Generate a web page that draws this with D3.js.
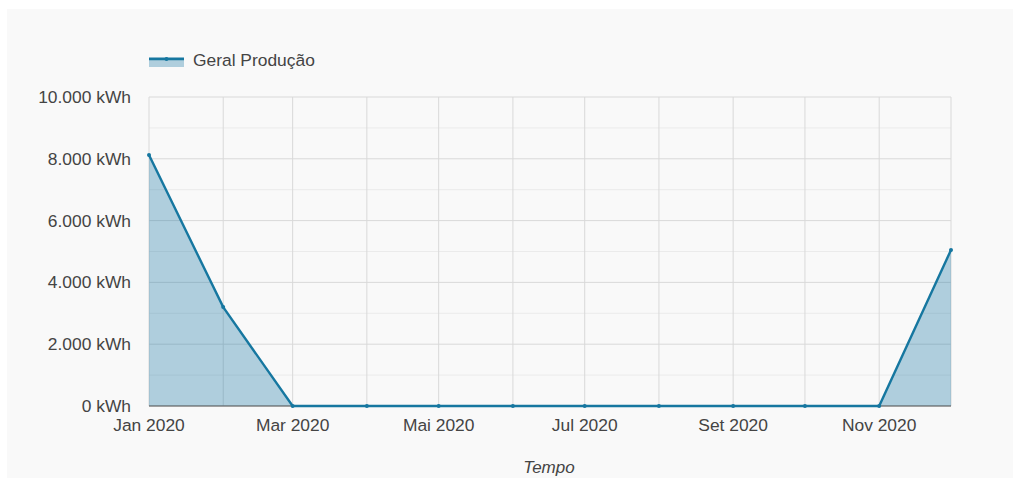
<!DOCTYPE html>
<html>
<head>
<meta charset="utf-8">
<script src="https://cdn.jsdelivr.net/npm/d3@7"></script>
<style>
  body { margin: 0; background: #fff; font-family: "Liberation Sans", Arial, sans-serif; }
  svg text { fill: #444; }
</style>
</head>
<body>
<svg id="chart"></svg>
<script>
const months = ["2020-01-01","2020-02-01","2020-03-01","2020-04-01","2020-05-01","2020-06-01",
                "2020-07-01","2020-08-01","2020-09-01","2020-10-01","2020-11-01","2020-12-01"];
const production = [8120, 3200, 0, 0, 0, 0, 0, 0, 0, 0, 0, 5050];
const yTicks = [0, 2000, 4000, 6000, 8000, 10000];
const monthNames = ["Jan","Fev","Mar","Abr","Mai","Jun","Jul","Ago","Set","Out","Nov","Dez"];

const width = 1020, height = 478;
const margin = { top: 97, right: 69, bottom: 72, left: 149 };
const innerW = width - margin.left - margin.right;
const innerH = height - margin.top - margin.bottom;
const fontSize = '17.4px';

const parse = d3.timeParse("%Y-%m-%d");
const data = months.map((m, i) => ({ date: parse(m), value: production[i] }));

const svg = d3.select('#chart')
  .attr('width', width)
  .attr('height', height);

svg.append('rect')
  .attr('x', 7).attr('y', 9)
  .attr('width', width - 14).attr('height', height - 9)
  .attr('fill', '#f9f9f9');

const g = svg.append('g')
  .attr('transform', `translate(${margin.left}, ${margin.top})`);

const x = d3.scaleTime()
  .domain(d3.extent(data, d => d.date))
  .range([0, innerW]);

const y = d3.scaleLinear()
  .domain([0, 10000])
  .range([innerH, 0]);

// minor horizontal grid
g.append('g')
  .selectAll('line')
  .data(d3.range(1000, 10000, 2000))
  .enter().append('line')
  .attr('x1', 0).attr('x2', innerW)
  .attr('y1', d => y(d)).attr('y2', d => y(d))
  .attr('stroke', '#ebebeb');

// major horizontal grid
g.append('g')
  .selectAll('line')
  .data(yTicks)
  .enter().append('line')
  .attr('x1', 0).attr('x2', innerW)
  .attr('y1', d => y(d)).attr('y2', d => y(d))
  .attr('stroke', '#d9d9d9');

// vertical grid
g.append('g')
  .selectAll('line')
  .data(data)
  .enter().append('line')
  .attr('x1', d => x(d.date)).attr('x2', d => x(d.date))
  .attr('y1', 0).attr('y2', innerH)
  .attr('stroke', '#d9d9d9');

const area = d3.area()
  .x(d => x(d.date))
  .y0(y(0))
  .y1(d => y(d.value));

const line = d3.line()
  .x(d => x(d.date))
  .y(d => y(d.value));

g.append('path')
  .datum(data)
  .attr('d', area)
  .attr('fill', 'rgba(23, 119, 163, 0.33)');

g.append('line')
  .attr('x1', 0).attr('x2', innerW)
  .attr('y1', y(0)).attr('y2', y(0))
  .attr('stroke', '#555');

g.append('path')
  .datum(data)
  .attr('d', line)
  .attr('fill', 'none')
  .attr('stroke', '#1677a0')
  .attr('stroke-width', 2.4);

g.selectAll('circle.pt')
  .data(data)
  .enter().append('circle')
  .attr('class', 'pt')
  .attr('cx', d => x(d.date))
  .attr('cy', d => y(d.value))
  .attr('r', 2)
  .attr('fill', '#1677a0');

// y axis labels
g.append('g')
  .selectAll('text')
  .data(yTicks)
  .enter().append('text')
  .attr('x', -18)
  .attr('y', d => y(d))
  .attr('dy', '0.35em')
  .attr('text-anchor', 'end')
  .attr('font-size', fontSize)
  .text(d => d3.format(",")(d).replace(/,/g, ".") + " kWh");

// x axis labels (every second month)
g.append('g')
  .selectAll('text')
  .data(data.filter((d, i) => i % 2 === 0))
  .enter().append('text')
  .attr('x', d => x(d.date))
  .attr('y', innerH + 25)
  .attr('text-anchor', 'middle')
  .attr('font-size', fontSize)
  .text(d => monthNames[d.date.getMonth()] + " " + d.date.getFullYear());

g.append('text')
  .attr('x', innerW / 2 - 1)
  .attr('y', innerH + 67)
  .attr('text-anchor', 'middle')
  .attr('font-size', '17px')
  .attr('font-style', 'italic')
  .text('Tempo');

// legend
const legend = svg.append('g')
  .attr('transform', 'translate(149, 59)');

legend.append('rect')
  .attr('x', 0).attr('y', -2)
  .attr('width', 35).attr('height', 10)
  .attr('fill', 'rgba(23, 119, 163, 0.33)');

legend.append('line')
  .attr('x1', 0).attr('x2', 35)
  .attr('y1', 0).attr('y2', 0)
  .attr('stroke', '#1677a0')
  .attr('stroke-width', 2.4);

legend.append('circle')
  .attr('cx', 17.5).attr('cy', 0)
  .attr('r', 2)
  .attr('fill', '#1677a0');

legend.append('text')
  .attr('x', 44)
  .attr('y', 1)
  .attr('dy', '0.35em')
  .attr('font-size', fontSize)
  .attr('fill', '#333')
  .text('Geral Produção');
</script>
</body>
</html>
